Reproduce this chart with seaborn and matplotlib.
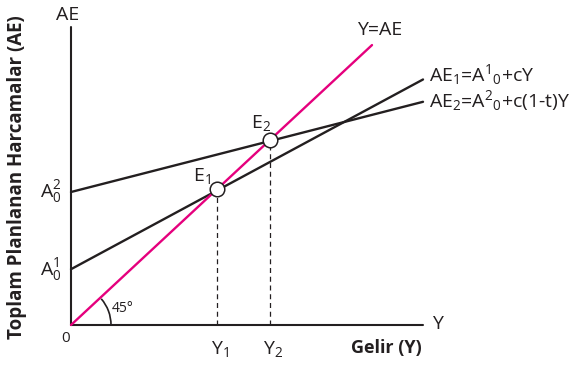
import matplotlib
matplotlib.use("Agg")
import matplotlib.pyplot as plt
from matplotlib.patches import Arc
import seaborn as sns

# values (units: Y = AE on the pink line)
ye_x = [0, 301]
ye_y = [0, 301]
ae1_x = [0, 352]
ae1_y = [60, 264]
ae2_x = [0, 352]
ae2_y = [143, 240]
eq_x = [146, 199]
eq_y = [146, 199]
eq_labels = ["E$_1$", "E$_2$"]
y_ticks = ["Y$_1$", "Y$_2$"]

sns.set_style("white")
plt.rcParams["font.family"] = ["Open Sans", "DejaVu Sans"]
plt.rcParams["mathtext.fontset"] = "custom"
plt.rcParams["mathtext.rm"] = "Open Sans"
plt.rcParams["mathtext.it"] = "Open Sans"

ink = "#231f20"
pink = "#e5007d"
ys = 0.93  # vertical px per unit

fig = plt.figure(figsize=(5.73, 3.66), dpi=100)
ax = fig.add_axes([0, 0, 1, 1])
ax.set_xlim(-71, 502)
ax.set_ylim(-41 / ys, 325 / ys)
ax.axis("off")

# axes
ax.plot([0, 0], [0, (325 - 27) / ys], color=ink, lw=1.5)
ax.plot([0, 352], [0, 0], color=ink, lw=1.5)

sns.lineplot(x=ae2_x, y=ae2_y, ax=ax, color=ink, lw=1.7)
sns.lineplot(x=ae1_x, y=ae1_y, ax=ax, color=ink, lw=1.7)
sns.lineplot(x=ye_x, y=ye_y, ax=ax, color=pink, lw=1.7)

for x, y in zip(eq_x, eq_y):
    ax.plot([x, x], [0, y], color=ink, lw=0.9, ls=(0, (4, 3)))

sns.scatterplot(x=eq_x, y=eq_y, ax=ax, s=110, color="white",
                edgecolor=ink, linewidth=1.1, zorder=5)

ax.add_patch(Arc((0, 0), 80, 80 / ys, theta1=0, theta2=43, color=ink, lw=1.2))

fs = 14
ax.text(-3, 310 / ys, "AE", fontsize=fs, ha="center", va="center", color=ink)
ax.text(366, 1, "Y", fontsize=fs, ha="center", va="center", color=ink)
ax.text(-5, -13 / ys, "0", fontsize=11, ha="center", va="center", color=ink)
ax.text(52, 16 / ys, "45°", fontsize=10, ha="center", va="center", color=ink)
ax.text(309, 295 / ys, "Y=AE", fontsize=fs, ha="center", va="center", color=ink)
ax.text(358, 250 / ys, r"AE$_1$=A$^1{}_0$+cY", fontsize=fs, ha="left",
        va="center", color=ink)
ax.text(358, 224 / ys, r"AE$_2$=A$^2{}_0$+c(1-t)Y", fontsize=fs, ha="left",
        va="center", color=ink)
ax.text(-20, ae2_y[0], r"A$_0^2$", fontsize=fs, ha="center",
        va="center", color=ink)
ax.text(-20, ae1_y[0], r"A$_0^1$", fontsize=fs, ha="center", va="center",
        color=ink)
ax.text(eq_x[0] - 15, eq_y[0] + 13 / ys, eq_labels[0], fontsize=fs,
        ha="center", va="center", color=ink)
ax.text(eq_x[1] - 9, eq_y[1] + 17 / ys, eq_labels[1], fontsize=fs,
        ha="center", va="center", color=ink)
for x, lab in zip(eq_x, y_ticks):
    ax.text(x + 3, -24 / ys, lab, fontsize=fs, ha="center", va="center",
            color=ink)
ax.text(315, -23 / ys, "Gelir (Y)", fontsize=13, fontweight="bold",
        ha="center", va="center", color=ink)
ax.text(-54, 148 / ys, "Toplam Planlanan Harcamalar (AE)", fontsize=13.5,
        fontweight="bold", rotation=90, ha="center", va="center", color=ink)

fig.savefig("out.png", dpi=100)
